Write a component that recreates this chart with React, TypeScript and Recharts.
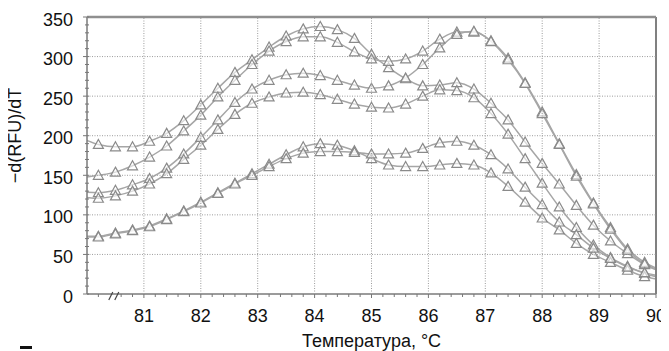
import { LineChart, Line, XAxis, YAxis } from "recharts";

// temperature grid of the melt curve (points at 79.9 and 90.1 are clipped by the axis)
const temps = [
  79.9, 80.2, 80.5, 80.8, 81.1, 81.4, 81.7, 82.0, 82.3, 82.6, 82.9, 83.2, 83.5, 83.8, 84.1, 84.4, 84.7, 85.0,
  85.3, 85.6, 85.9, 86.2, 86.5, 86.8, 87.1, 87.4, 87.7, 88.0, 88.3, 88.6, 88.9, 89.2, 89.5, 89.8, 90.1,
];

const curve1 = [
  197, 189, 186, 186, 193, 203, 219, 239, 260, 280, 296, 312, 326, 335, 338, 334, 323, 303,
  286, 272, 263, 264, 267, 259, 241, 220, 192, 165, 139, 112, 87, 67, 51, 37, 28,
];
const curve2 = [
  147, 150, 154, 162, 173, 187, 206, 226, 249, 270, 290, 307, 319, 325, 325, 318, 306, 297,
  294, 297, 307, 322, 331, 331, 320, 298, 267, 230, 190, 151, 115, 84, 57, 40, 30,
];
const curve3 = [
  129, 128, 131, 138, 146, 159, 177, 198, 220, 242, 259, 270, 277, 279, 276, 270, 264, 260,
  263, 273, 290, 311, 328, 332, 319, 296, 266, 228, 189, 149, 114, 82, 55, 38, 29,
];
const curve4 = [
  123, 121, 124, 130, 139, 152, 170, 188, 208, 227, 241, 249, 254, 255, 252, 246, 240, 236,
  235, 240, 250, 258, 257, 248, 228, 202, 171, 140, 110, 84, 62, 46, 35, 26, 20,
];
const curve5 = [
  73, 73, 77, 81, 86, 95, 105, 116, 128, 140, 152, 164, 176, 186, 190, 188, 181, 171,
  163, 161, 161, 163, 165, 163, 153, 136, 116, 96, 81, 64, 50, 40, 30, 22, 18,
];
const curve6 = [
  72, 72, 76, 80, 85, 94, 104, 115, 127, 139, 150, 161, 171, 178, 180, 180, 179, 177,
  177, 178, 184, 191, 193, 188, 176, 158, 135, 113, 91, 75, 58, 45, 34, 27, 22,
];

const xLabels = [81, 82, 83, 84, 85, 86, 87, 88, 89, 90];
const yLabels = [0, 50, 100, 150, 200, 250, 300, 350];
const xGrid = [81, 82, 83, 84, 85, 86, 87, 88, 89];
const yGrid = [50, 100, 150, 200, 250, 300];

const xTicks = Array.from({ length: 50 }, (_, i) => Math.round((80.2 + i * 0.2) * 10) / 10);
const yTicks = Array.from({ length: 36 }, (_, i) => i * 10);

const rows = temps.map((t, i) => ({
  t,
  c1: curve1[i],
  c2: curve2[i],
  c3: curve3[i],
  c4: curve4[i],
  c5: curve5[i],
  c6: curve6[i],
}));

// layout
const W = 669;
const H = 351;
const M_TOP = 17;
const M_RIGHT = 13;
const X_H = 57;
const Y_W = 87;
const PLOT_W = W - M_RIGHT - Y_W;
const PLOT_H = H - M_TOP - X_H;

const FONT = '"Liberation Sans", Arial, sans-serif';
const LINE = "#a6a6a6";
const MARK = "#8a8a8a";
const GRID = "#9c9c9c";

function inRange(p: any) {
  return p && p.t >= 80 && p.t <= 90;
}

const Triangle = (props: any) => {
  const { cx, cy, payload } = props;
  if (!inRange(payload) || cx == null) return null;
  return (
    <path
      d={`M${cx},${cy - 5} L${cx + 5},${cy + 4} L${cx - 5},${cy + 4} Z`}
      fill="#fff"
      fillOpacity={0.6}
      stroke={MARK}
      strokeWidth={1.2}
    />
  );
};

// x ticks also carry the vertical grid lines and the right frame
const XTick = (props: any) => {
  const { x, y, payload } = props;
  const v = payload.value;
  const major = xLabels.includes(v);
  if (Math.abs(v - 80.4) < 1e-6) {
    // axis break mark
    return (
      <g stroke="#444" strokeWidth={1.2}>
        <line x1={x - 1} y1={y + 6} x2={x + 3} y2={y - 2} />
        <line x1={x + 5} y1={y + 6} x2={x + 9} y2={y - 2} />
      </g>
    );
  }
  return (
    <g>
      {xGrid.includes(v) && (
        <line x1={x} y1={y} x2={x} y2={y - PLOT_H} stroke={GRID} strokeWidth={1} strokeDasharray="1 1.5" />
      )}
      {v === 90 && <line x1={x} y1={y} x2={x} y2={y - PLOT_H} stroke="#808080" strokeWidth={2} />}
      <line x1={x} y1={y} x2={x} y2={y + (major ? 4 : 3)} stroke="#777" strokeWidth={1} />
      {major && (
        <text x={x} y={y + 27.5} textAnchor="middle" fontSize={18} fontFamily={FONT} fill="#111">
          {v}
        </text>
      )}
    </g>
  );
};

// y ticks also carry the horizontal grid lines and the top frame
const YTick = (props: any) => {
  const { x, y, payload } = props;
  const v = payload.value;
  const major = yLabels.includes(v);
  return (
    <g>
      {yGrid.includes(v) && (
        <line x1={x} y1={y} x2={x + PLOT_W} y2={y} stroke={GRID} strokeWidth={1} strokeDasharray="1 1.5" />
      )}
      {v === 350 && <line x1={x} y1={y} x2={x + PLOT_W} y2={y} stroke="#8f8f8f" strokeWidth={2.5} />}
      <line x1={x - (major ? 4 : 2)} y1={y} x2={x + 2} y2={y} stroke="#777" strokeWidth={1} />
      {major && (
        <text x={x - 14} y={y + 8.5} textAnchor="end" fontSize={18} fontFamily={FONT} fill="#111">
          {v}
        </text>
      )}
    </g>
  );
};

const YTitle = (props: any) => {
  const vb = props.viewBox;
  const cx = vb.x + 21;
  const cy = vb.y + vb.height / 2 - 20;
  return (
    <text
      x={cx}
      y={cy}
      transform={`rotate(-90 ${cx} ${cy})`}
      textAnchor="middle"
      fontSize={18}
      fontFamily={FONT}
      fill="#111"
    >
      −d(RFU)/dT
    </text>
  );
};

const XTitle = (props: any) => {
  const vb = props.viewBox;
  return (
    <text x={vb.x + vb.width / 2} y={vb.y + 53} textAnchor="middle" fontSize={18} fontFamily={FONT} fill="#111">
      Температура, °C
    </text>
  );
};

const seriesKeys = ["c1", "c2", "c3", "c4", "c5", "c6"];

export default function App() {
  return (
    <div style={{ position: "relative", width: W, height: H, margin: "-8px 0 0 -8px", background: "#fff" }}>
      <LineChart width={W} height={H} data={rows} margin={{ top: M_TOP, right: M_RIGHT, bottom: 0, left: 0 }}>
        <XAxis
          dataKey="t"
          type="number"
          domain={[80, 90]}
          allowDataOverflow
          ticks={xTicks}
          interval={0}
          tickSize={0}
          tickMargin={0}
          tickLine={false}
          tick={<XTick />}
          axisLine={{ stroke: "#7a7a7a", strokeWidth: 1.5 }}
          height={X_H}
          label={<XTitle />}
        />
        <YAxis
          type="number"
          domain={[0, 350]}
          ticks={yTicks}
          interval={0}
          tickSize={0}
          tickMargin={0}
          tickLine={false}
          tick={<YTick />}
          axisLine={{ stroke: "#7a7a7a", strokeWidth: 1.5 }}
          width={Y_W}
          label={<YTitle />}
        />
        {seriesKeys.map((k) => (
          <Line
            key={k}
            dataKey={k}
            type="monotone"
            stroke={LINE}
            strokeWidth={1.5}
            dot={Triangle}
            activeDot={false}
            isAnimationActive={false}
          />
        ))}
      </LineChart>
      <div style={{ position: "absolute", left: 20, top: 346, width: 12, height: 3, background: "#111" }} />
    </div>
  );
}
